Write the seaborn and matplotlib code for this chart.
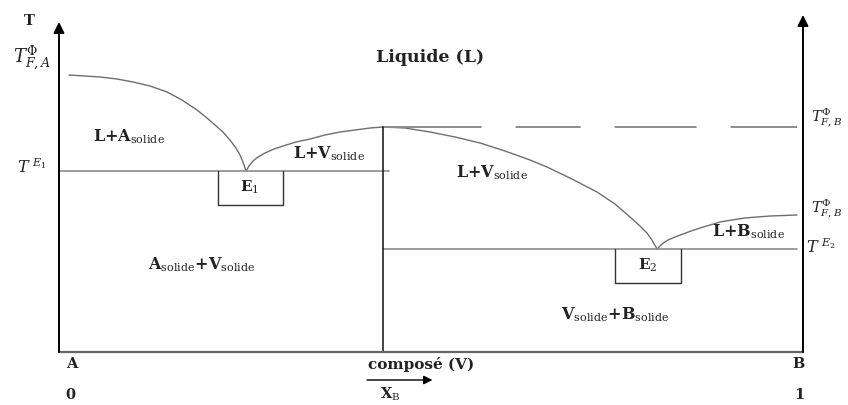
import matplotlib
matplotlib.use("Agg")
import matplotlib.pyplot as plt
import seaborn as sns
import pandas as pd

sns.set_theme(style="white")
plt.rcParams["mathtext.fontset"] = "dejavuserif"
plt.rcParams["lines.scale_dashes"] = False

# Composition (mole fraction of B) and temperature (arbitrary units)
x_V = 0.4355         # intermediate compound V
x_E1, T_E1 = 0.2513, 181
x_E2, T_E2 = 0.8038, 103
T_FV = 225           # melting point of V (metastable extension)

# Liquidus branches
liq_A_x = [0.0134, 0.0349, 0.0551, 0.0780, 0.0995, 0.1223, 0.1452, 0.1653,
           0.1855, 0.1989, 0.2097, 0.2204, 0.2298, 0.2379, 0.2433, 0.2473,
           0.2513]
liq_A_T = [277, 276, 275, 273, 270, 266, 260, 252, 242, 234, 227, 220, 212,
           204, 197, 190, 181]

liq_V1_x = [0.2513, 0.2554, 0.2608, 0.2675, 0.2769, 0.2890, 0.3011, 0.3185,
            0.3374, 0.3575, 0.3777, 0.3978, 0.4180, 0.4355]
liq_V1_T = [181, 186, 191, 195, 199, 203, 206, 210, 213, 217, 220, 222, 224,
            225]

liq_V2_x = [0.4355, 0.4651, 0.4987, 0.5323, 0.5659, 0.5995, 0.6331, 0.6559,
            0.6895, 0.7231, 0.7473, 0.7675, 0.7809, 0.7903, 0.7970, 0.8038]
liq_V2_T = [225, 224, 220, 215, 209, 201, 192, 185, 173, 160, 148, 135, 126,
            119, 112, 103]

liq_B_x = [0.8038, 0.8105, 0.8185, 0.8280, 0.8387, 0.8495, 0.8616, 0.8750,
           0.8884, 0.9046, 0.9220, 0.9382, 0.9556, 0.9745, 0.9919]
liq_B_T = [103, 108, 112, 115, 118, 121, 124, 127, 130, 132, 134, 135, 136,
           136.5, 137]

fig = plt.figure(figsize=(8.48, 4.05), dpi=100)
ax = fig.add_axes([0, 0, 1, 1])
ax.set_xlim(-0.0793, 1.0605)
ax.set_ylim(-53, 352)
ax.axis("off")

curve_color = "#6e6e6e"
line_color = "#8c8c8c"

for xs, ts in [(liq_A_x, liq_A_T), (liq_V1_x, liq_V1_T),
               (liq_V2_x, liq_V2_T), (liq_B_x, liq_B_T)]:
    df = pd.DataFrame({"x": xs, "T": ts})
    sns.lineplot(data=df, x="x", y="T", sort=False, ax=ax,
                 color=curve_color, lw=1.0)

# Eutectic horizontals
ax.plot([0, 0.443], [T_E1, T_E1], color=line_color, lw=1.2)
ax.plot([x_V, 0.992], [T_E2, T_E2], color=line_color, lw=1.2)

# Dashed line at the melting temperature of V
ax.plot([x_V, 0.992], [T_FV, T_FV], color=line_color, lw=1.4,
        linestyle=(0, (71, 24.5, 46.8, 24.5, 59, 24.5, 50, 30)))

# Vertical line of compound V
ax.plot([x_V, x_V], [0, T_FV], color="#222222", lw=1.2)

# Boxes around eutectic labels
e1_box_x = [0.214, 0.214, 0.301, 0.301]
e1_box_T = [T_E1, 147, 147, T_E1]
ax.plot(e1_box_x, e1_box_T, color="#333333", lw=1.0)
e2_box_x = [0.747, 0.747, 0.836, 0.836]
e2_box_T = [T_E2, 69, 69, T_E2]
ax.plot(e2_box_x, e2_box_T, color="#333333", lw=1.0)

# Frame: bottom composition axis and two temperature axes
ax.plot([0, 1], [0, 0], color="#666666", lw=1.6)
arrow = dict(arrowstyle="-|>", color="black", lw=1.4, mutation_scale=16,
             shrinkA=0, shrinkB=0)
ax.annotate("", xy=(0, 330), xytext=(0, 0), arrowprops=arrow)
ax.annotate("", xy=(1, 337), xytext=(1, 0), arrowprops=arrow)

# Arrow under the composition label
ax.annotate("", xy=(0.502, -28), xytext=(0.414, -28),
            arrowprops=dict(arrowstyle="-|>", color="black", lw=1.0,
                            mutation_scale=13, shrinkA=0, shrinkB=0))

bold = dict(family="DejaVu Serif", weight="bold", color="#222222")
reg = dict(family="DejaVu Serif", color="#222222")

def px(xp, yp):
    return ((xp - 59) / 744, 352 - yp)

def label(xp, yp, s, size=11, props=bold, ha="center"):
    x, y = px(xp, yp)
    ax.text(x, y, s, ha=ha, va="center", fontsize=size, **props)

label(430, 57, "Liquide (L)", 12.5)
label(129, 137, r"L+A$_{\mathrm{solide}}$", 11.5)
label(329, 154, r"L+V$_{\mathrm{solide}}$", 11.5)
label(492, 173, r"L+V$_{\mathrm{solide}}$", 11.5)
label(749, 232, r"L+B$_{\mathrm{solide}}$", 11.5)
label(202, 265, r"A$_{\mathrm{solide}}$+V$_{\mathrm{solide}}$", 11.5)
label(615, 315, r"V$_{\mathrm{solide}}$+B$_{\mathrm{solide}}$", 11.5)
label(250, 187, r"E$_{\mathrm{1}}$", 11)
label(648, 265, r"E$_{\mathrm{2}}$", 11)

label(72, 364, "A", 10.5)
label(421, 364, "composé (V)", 11)
label(798, 364, "B", 10.5)
label(70, 395, "0", 10.5)
label(390, 394, r"X$_{\mathrm{B}}$", 10.5)
label(799, 395, "1", 10.5)

# Temperature axis labels
label(29, 21, "T", 10.5)
label(32, 58, r"$T_{F,A}^{\Phi}$", 13, reg)
label(32, 168, r"$T^{\ E_1}$", 11.5, reg)
label(811, 118, r"$T_{F,B}^{\Phi}$", 10.5, reg, ha="left")
label(811, 209, r"$T_{F,B}^{\Phi}$", 10.5, reg, ha="left")
label(806, 248, r"$T^{\ E_2}$", 11.5, reg, ha="left")

fig.savefig("out.png", dpi=100)
